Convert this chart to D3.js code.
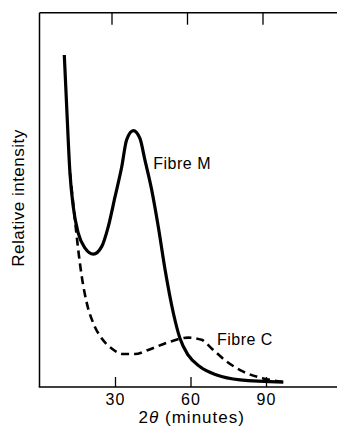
<!DOCTYPE html>
<html><head><meta charset="utf-8">
<script src="https://cdn.jsdelivr.net/npm/d3@7"></script>
<style>
html,body{margin:0;padding:0;background:#fff;}
svg{display:block;}
text{font-family:"Liberation Sans",Arial,Helvetica,sans-serif;fill:#000;}
</style></head>
<body>
<svg id="chart" width="337" height="428"></svg>
<script>
// Data: x = 2θ (minutes), y = relative intensity (arbitrary units)
const fibreMx = [9.85, 10.8, 12.1, 13.4, 15.4, 18.1, 21.4, 24.7, 27.3, 30.0, 32.7, 34.6, 37.3, 39.9, 41.9, 44.6, 47.2, 49.9, 53.2, 55.8, 59.1, 63.8, 70.4, 79.7, 96.9];
const fibreMy = [88.7, 74.9, 57.2, 48.2, 41.1, 37.1, 35.5, 37.5, 42.8, 50.8, 58.9, 66.0, 68.5, 66.4, 60.6, 52.6, 42.8, 31.3, 19.7, 13.0, 8.5, 5.4, 3.2, 1.9, 1.3];
const fibreCx = [12.1, 14.1, 15.4, 16.8, 18.8, 21.4, 24.7, 28.7, 33.3, 37.9, 43.2, 51.8, 59.1, 64.4, 68.4, 74.4, 81.0, 88.9, 96.5];
const fibreCy = [57.2, 44.6, 36.6, 29.5, 22.4, 17.0, 13.0, 10.3, 8.8, 8.8, 9.9, 12.1, 13.2, 12.6, 10.3, 6.8, 4.1, 2.3, 1.4];
const xTicks = [30, 60, 90];
const xTickLabels = ["30", "60", "90"];
const seriesLabels = ["Fibre M", "Fibre C"];
const xTitle = ["2", "θ", " (minutes)"];
const yTitle = "Relative intensity";

(function () {
const svg = d3.select("#chart");
const mLeft = 39.5, mTop = 12.7, mBottom = 387, mRight = 341.5;
const x = d3.scaleLinear().domain([0, 120]).range([mLeft, mRight]);
const y = d3.scaleLinear().domain([0, 100]).range([mBottom, mTop]);

const line = d3.line().x(d => x(d[0])).y(d => y(d[1])).curve(d3.curveMonotoneX);

// Frame
const frame = svg.append("g").attr("stroke", "#000").attr("stroke-width", 1.5).attr("fill", "none");
frame.append("line").attr("x1", mLeft).attr("x2", mLeft).attr("y1", mTop).attr("y2", mBottom);
frame.append("line").attr("x1", mLeft).attr("x2", 337).attr("y1", mTop).attr("y2", mTop);
frame.append("line").attr("x1", mLeft - 0.75).attr("x2", 337).attr("y1", mBottom).attr("y2", mBottom);

// Bottom axis (ticks pointing inward)
const xAxisB = d3.axisBottom(x).tickValues(xTicks).tickFormat((d, i) => xTickLabels[i]).tickSize(-10).tickPadding(7);
const gB = svg.append("g").attr("transform", `translate(0,${mBottom})`).call(xAxisB);
gB.select(".domain").remove();
gB.selectAll(".tick line").attr("stroke", "#000").attr("stroke-width", 1.3);
gB.selectAll(".tick text").attr("font-size", 16).attr("letter-spacing", 1).attr("fill", "#000")
  .attr("font-family", '"Liberation Sans",Arial,sans-serif');

// Top axis (ticks pointing inward, no labels)
const xAxisT = d3.axisTop(x).tickValues(xTicks).tickFormat("").tickSize(-12);
const gT = svg.append("g").attr("transform", `translate(-3.5,${mTop})`).call(xAxisT);
gT.select(".domain").remove();
gT.selectAll(".tick line").attr("stroke", "#000").attr("stroke-width", 1.3);

// Curves
const dataC = fibreCx.map((v, i) => [v, fibreCy[i]]);
const dataM = fibreMx.map((v, i) => [v, fibreMy[i]]);
svg.append("path").attr("d", line(dataC)).attr("fill", "none").attr("stroke", "#000")
  .attr("stroke-width", 2.6).attr("stroke-dasharray", "8,5");
svg.append("path").attr("d", line(dataM)).attr("fill", "none").attr("stroke", "#000")
  .attr("stroke-width", 3.2).attr("stroke-linejoin", "round");

// Series labels
svg.append("text").attr("x", x(45.2)).attr("y", y(58.3)).attr("font-size", 16).attr("letter-spacing", 0.5).text(seriesLabels[0]);
svg.append("text").attr("x", x(70.5)).attr("y", y(11.3)).attr("font-size", 16).attr("letter-spacing", 0.5).text(seriesLabels[1]);

// Axis titles
const xt = svg.append("text").attr("x", x(60.5)).attr("y", 423).attr("text-anchor", "middle").attr("font-size", 17).attr("letter-spacing", 1);
xt.append("tspan").text(xTitle[0]);
xt.append("tspan").attr("font-style", "italic").text(xTitle[1]);
xt.append("tspan").text(xTitle[2]);

svg.append("text").attr("transform", `translate(24,${y(50.5)}) rotate(-90)`).attr("text-anchor", "middle")
  .attr("font-size", 17).attr("letter-spacing", 0.5).text(yTitle);
})();
</script>
</body></html>
